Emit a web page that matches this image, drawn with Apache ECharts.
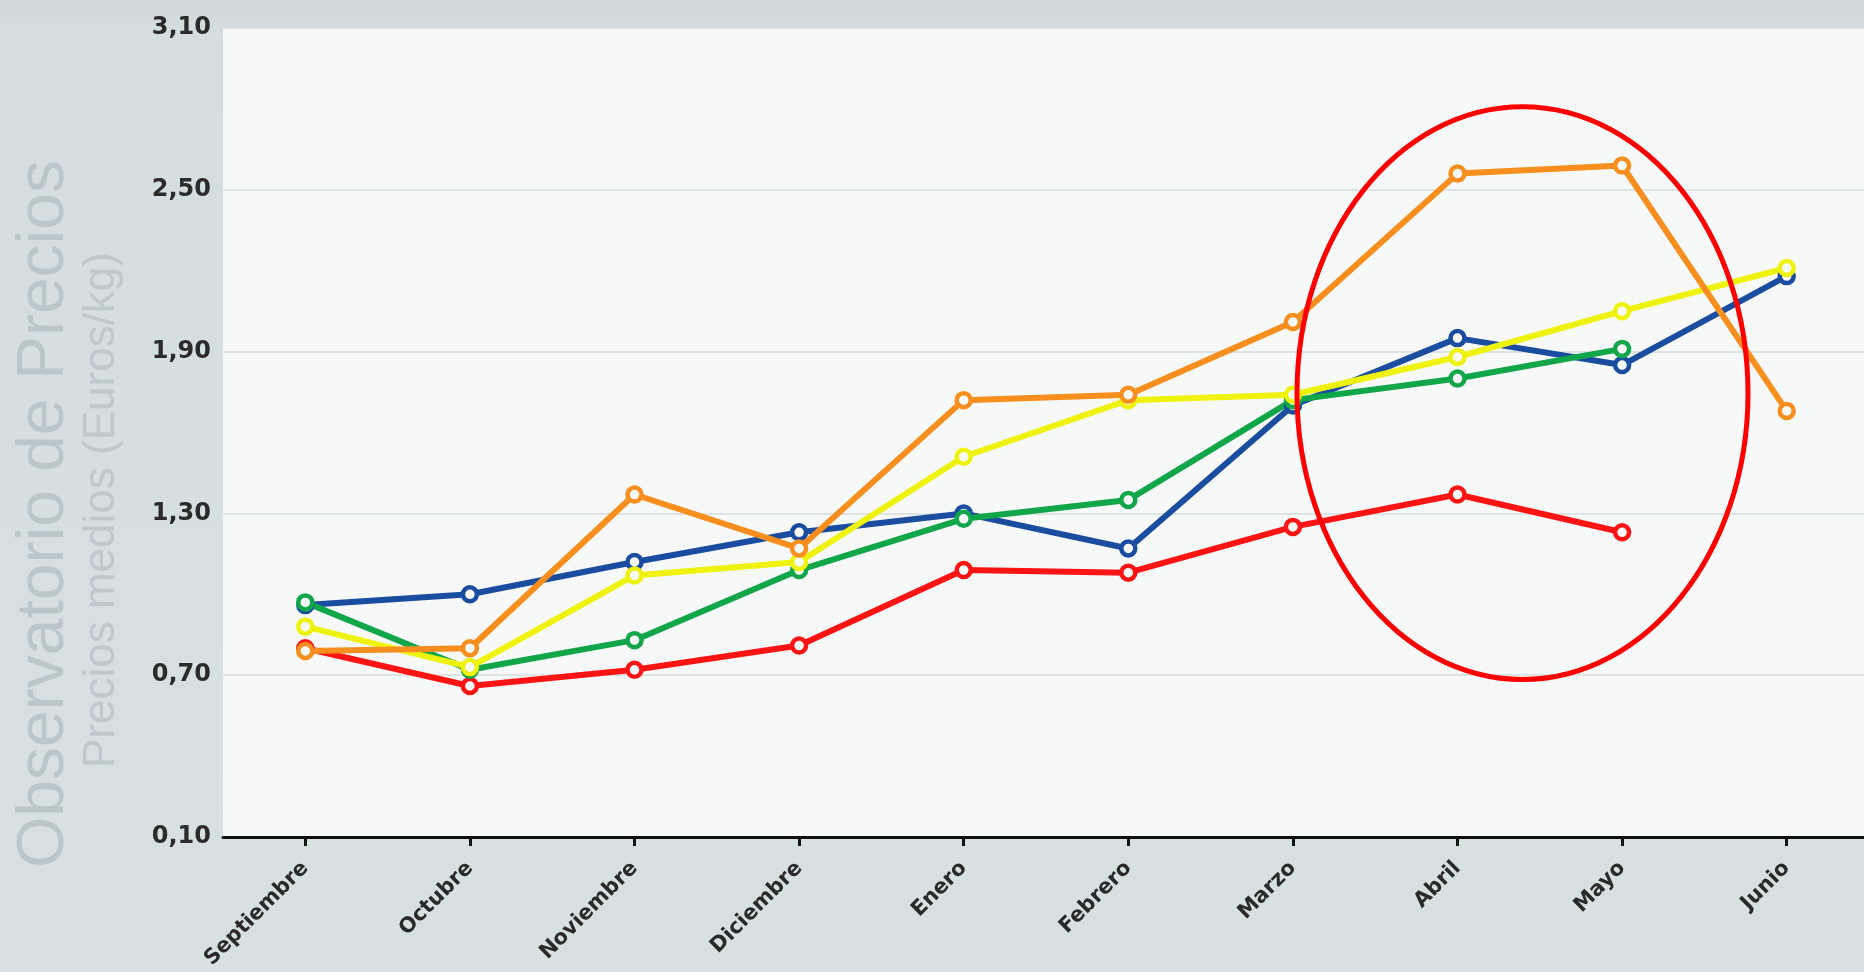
<!DOCTYPE html>
<html>
<head>
<meta charset="utf-8">
<script src="https://cdn.jsdelivr.net/npm/echarts@6/dist/echarts.min.js"></script>
<style>
html,body{margin:0;padding:0;background:#d6dfe0;}
#chart{width:1864px;height:972px;}
</style>
</head>
<body>
<div id="chart"></div>
<script>
const months = ['Septiembre','Octubre','Noviembre','Diciembre','Enero','Febrero','Marzo','Abril','Mayo','Junio'];
const serieRoja     = [0.80, 0.66, 0.72, 0.81, 1.09, 1.08, 1.25, 1.37, 1.23, null];
const serieAzul     = [0.96, 1.00, 1.12, 1.23, 1.30, 1.17, 1.70, 1.95, 1.85, 2.18];
const serieVerde    = [0.97, 0.72, 0.83, 1.09, 1.28, 1.35, 1.72, 1.80, 1.91, null];
const serieAmarilla = [0.88, 0.73, 1.07, 1.12, 1.51, 1.72, 1.74, 1.88, 2.05, 2.21];
const serieNaranja  = [0.79, 0.80, 1.37, 1.17, 1.72, 1.74, 2.01, 2.56, 2.59, 1.68];
const yMin = 0.10, yMax = 3.10, yStep = 0.60;
const titleText = 'Observatorio de Precios';
const subtitleText = 'Precios medios (Euros/kg)';

const chart = echarts.init(document.getElementById('chart'), null, {renderer:'canvas'});

function mkSeries(name, data, color){
  return {
    name: name, type: 'line', data: data,
    symbol: 'circle', symbolSize: 14,
    lineStyle: {width: 6, color: color},
    itemStyle: {color: '#f7f9f9', borderColor: color, borderWidth: 4.5},
    emphasis: {disabled: true},
    connectNulls: false,
    animation: false
  };
}

const option = {
  backgroundColor: {
    type: 'linear', x: 0, y: 0, x2: 0, y2: 1,
    colorStops: [{offset: 0, color: '#cfd8da'}, {offset: 0.03, color: '#d4dddf'}, {offset: 1, color: '#d8e1e2'}]
  },
  animation: false,
  grid: {left: 223, top: 28, width: 1646, height: 809, show: true, backgroundColor: '#f7f9f9', borderWidth: 0,
         outerBoundsMode: 'none', containLabel: false},
  xAxis: {
    type: 'category', data: months, boundaryGap: true,
    axisLine: {show: true, lineStyle: {color: '#111', width: 3}},
    axisTick: {show: true, alignWithLabel: true, length: 9, lineStyle: {color: '#111', width: 3}},
    axisLabel: {rotate: 45, margin: 28, color: '#2a2a2a', fontFamily: 'DejaVu Sans', fontWeight: 'bold', fontSize: 21},
    splitLine: {show: false}
  },
  yAxis: {
    type: 'value', min: yMin, max: yMax, interval: yStep,
    axisLine: {show: false}, axisTick: {show: false},
    axisLabel: {
      margin: 12, color: '#2b2b2b', fontFamily: 'DejaVu Sans', fontWeight: 'bold', fontSize: 24,
      formatter: v => v.toFixed(2).replace('.', ',')
    },
    splitLine: {show: true, lineStyle: {color: '#d6dcdd', width: 1.5}}
  },
  series: [
    mkSeries('Rojo', serieRoja, '#ff1414'),
    mkSeries('Azul', serieAzul, '#1a4c9f'),
    mkSeries('Verde', serieVerde, '#12a64a'),
    mkSeries('Amarillo', serieAmarilla, '#eef20c'),
    mkSeries('Naranja', serieNaranja, '#f78e1e')
  ],
  graphic: [
    {type: 'text', x: 45, y: 514, rotation: Math.PI/2, silent: true,
     style: {text: titleText, fill: '#b9c7cb', font: '66px "Liberation Sans", Arial, sans-serif', align: 'center', verticalAlign: 'middle'}},
    {type: 'text', x: 102, y: 510, rotation: Math.PI/2, silent: true,
     style: {text: subtitleText, fill: '#bdc9cc', font: '44px "Liberation Sans", Arial, sans-serif', align: 'center', verticalAlign: 'middle'}}
  ]
};
chart.setOption(option);

// Annotation ellipse around Abril–Mayo, positioned from axis coordinates
const pA = chart.convertToPixel({gridIndex: 0}, ['Abril', 1.0]);
const pM = chart.convertToPixel({gridIndex: 0}, ['Mayo', 2.0]);
const catW = pM[0] - pA[0];
const unitH = pA[1] - pM[1];
const cx = pA[0] + catW * 0.395;
const cy = pA[1] - unitH * 0.746;
chart.setOption({
  graphic: option.graphic.concat([{
    type: 'ellipse', silent: true, z: 100,
    shape: {cx: cx, cy: cy, rx: catW * 1.37, ry: unitH * 1.062},
    style: {fill: 'none', stroke: '#ff0000', lineWidth: 5}
  }])
});
</script>
</body>
</html>
